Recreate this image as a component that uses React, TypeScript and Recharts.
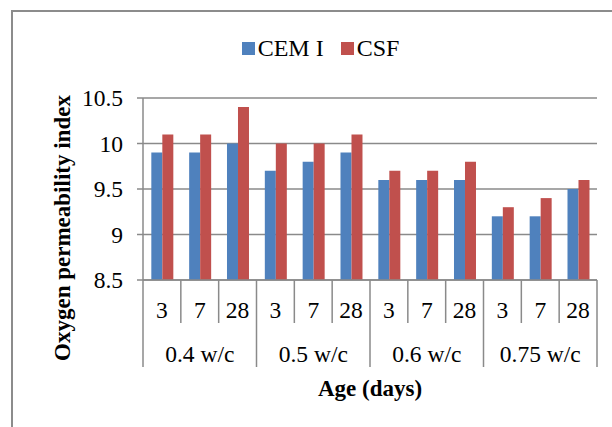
import {
  BarChart,
  Bar,
  XAxis,
  YAxis,
  CartesianGrid,
  Legend,
} from "recharts";

const groups = ["0.4 w/c", "0.5 w/c", "0.6 w/c", "0.75 w/c"];
const ages = ["3", "7", "28"];
const cemI = [9.9, 9.9, 10.0, 9.7, 9.8, 9.9, 9.6, 9.6, 9.6, 9.2, 9.2, 9.5];
const csf = [10.1, 10.1, 10.4, 10.0, 10.0, 10.1, 9.7, 9.7, 9.8, 9.3, 9.4, 9.6];
const yTicks = [8.5, 9, 9.5, 10, 10.5];

const data = cemI.map((v, i) => ({
  key: `${groups[Math.floor(i / ages.length)]}-${ages[i % ages.length]}`,
  age: ages[i % ages.length],
  group: groups[Math.floor(i / ages.length)],
  cem: v,
  csf: csf[i],
}));

const W = 612;
const H = 427;
const PLOT_LEFT = 143;
const PLOT_RIGHT = 597;
const AXIS1_H = 44;
const AXIS2_H = 44;
const BAND = (PLOT_RIGHT - PLOT_LEFT) / data.length;

const FONT = "'Liberation Serif', 'Times New Roman', serif";
const GRID = "#8a8a8a";

function AgeTick({ x, y, payload }: any) {
  const i = payload.index;
  const left = x - BAND / 2;
  return (
    <g>
      {i % ages.length !== 0 && (
        <line x1={left} x2={left} y1={y} y2={y + AXIS1_H - 1} stroke={GRID} strokeWidth={1.5} />
      )}
      <text
        x={x}
        y={y + 30}
        textAnchor="middle"
        dominantBaseline="central"
        fontFamily={FONT}
        fontSize={23.5}
        fill="#000"
      >
        {data[i]?.age}
      </text>
    </g>
  );
}

function GroupTick({ x, y, payload }: any) {
  const i = payload.index;
  if (i % ages.length !== 1) return null;
  const left = x - BAND * 1.5;
  const right = x + BAND * 1.5;
  const top = y - AXIS1_H;
  return (
    <g>
      <line x1={left} x2={left} y1={top} y2={y + AXIS2_H - 1} stroke={GRID} strokeWidth={1.5} />
      {i === data.length - 2 && (
        <line x1={right} x2={right} y1={top} y2={y + AXIS2_H - 1} stroke={GRID} strokeWidth={1.5} />
      )}
      <text
        x={x}
        y={y + 30}
        textAnchor="middle"
        dominantBaseline="central"
        fontFamily={FONT}
        fontSize={23.5}
        fill="#000"
      >
        {data[i]?.group}
      </text>
    </g>
  );
}

function LegendContent() {
  const items = [
    { name: "CEM I", color: "#4F81BD" },
    { name: "CSF", color: "#C0504D" },
  ];
  return (
    <div
      style={{
        display: "flex",
        justifyContent: "center",
        paddingLeft: 46,
        fontFamily: FONT,
        fontSize: 24,
        color: "#000",
      }}
    >
      {items.map((it) => (
        <div key={it.name} style={{ display: "flex", alignItems: "center", marginRight: 17 }}>
          <div style={{ width: 13, height: 13, background: it.color, marginRight: 3 }} />
          <span>{it.name}</span>
        </div>
      ))}
    </div>
  );
}

function YLabel({ viewBox }: any) {
  const cx = 62;
  const cy = viewBox.y + viewBox.height / 2 + 39;
  return (
    <text
      x={cx}
      y={cy}
      transform={`rotate(-90, ${cx}, ${cy})`}
      textAnchor="middle"
      dominantBaseline="central"
      fontFamily={FONT}
      fontSize={23}
      fontWeight="bold"
      fill="#000"
    >
      Oxygen permeability index
    </text>
  );
}

function XLabel({ viewBox }: any) {
  return (
    <text
      x={viewBox.x + viewBox.width / 2}
      y={viewBox.y + viewBox.height + 20}
      textAnchor="middle"
      dominantBaseline="central"
      fontFamily={FONT}
      fontSize={23}
      fontWeight="bold"
      fill="#000"
    >
      Age (days)
    </text>
  );
}

export default function App() {
  return (
    <div
      style={{
        position: "absolute",
        left: 0,
        top: 0,
        width: W,
        height: H,
        overflow: "hidden",
        background: "#fff",
      }}
    >
      <div
        style={{
          position: "absolute",
          left: 11,
          top: 10,
          width: W + 20,
          height: H + 20,
          border: "2px solid #8c8c8c",
        }}
      />
      <BarChart
        width={W}
        height={H}
        data={data}
        margin={{ top: 98, right: W - PLOT_RIGHT, left: 0, bottom: H - 280 - AXIS1_H - AXIS2_H }}
        barCategoryGap="22%"
        barGap={0}
        style={{ position: "absolute", left: 0, top: 0 }}
      >
        <CartesianGrid vertical={false} stroke={GRID} strokeWidth={1.5} />
        <XAxis
          dataKey="key"
          height={AXIS1_H}
          interval={0}
          tickLine={false}
          tickSize={0}
          tickMargin={0}
          axisLine={{ stroke: GRID, strokeWidth: 1.5 }}
          tick={<AgeTick />}
        />
        <XAxis
          dataKey="key"
          xAxisId="grp"
          height={AXIS2_H}
          interval={0}
          tickLine={false}
          tickSize={0}
          tickMargin={0}
          axisLine={false}
          tick={<GroupTick />}
          label={<XLabel />}
        />
        <YAxis
          width={PLOT_LEFT}
          domain={[8.5, 10.5]}
          ticks={yTicks}
          allowDataOverflow
          tickSize={6}
          tickMargin={14}
          axisLine={{ stroke: GRID, strokeWidth: 1.5 }}
          tickLine={{ stroke: GRID, strokeWidth: 1.5 }}
          tick={{ fill: "#000", fontSize: 23.5, fontFamily: FONT }}
          label={<YLabel />}
        />
        <Legend
          verticalAlign="middle"
          content={<LegendContent />}
          wrapperStyle={{ top: 35, left: 0, width: W }}
        />
        <Bar dataKey="cem" name="CEM I" fill="#4F81BD" isAnimationActive={false} />
        <Bar dataKey="csf" name="CSF" fill="#C0504D" isAnimationActive={false} />
      </BarChart>
    </div>
  );
}
